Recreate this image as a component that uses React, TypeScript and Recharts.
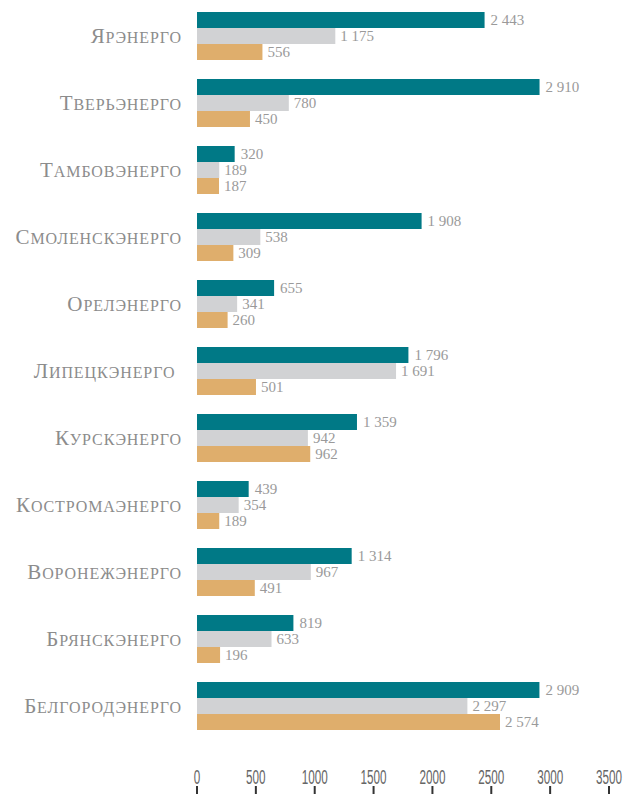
import { Bar, BarChart, LabelList, XAxis, YAxis } from "recharts";

const companies = [
  "Ярэнерго",
  "Тверьэнерго",
  "Тамбовэнерго",
  "Смоленскэнерго",
  "Орелэнерго",
  "Липецкэнерго\u00a0",
  "Курскэнерго",
  "Костромаэнерго",
  "Воронежэнерго",
  "Брянскэнерго",
  "Белгородэнерго",
];
const tealValues = [2443, 2910, 320, 1908, 655, 1796, 1359, 439, 1314, 819, 2909];
const grayValues = [1175, 780, 189, 538, 341, 1691, 942, 354, 967, 633, 2297];
const orangeValues = [556, 450, 187, 309, 260, 501, 962, 189, 491, 196, 2574];
const xTicks = [0, 500, 1000, 1500, 2000, 2500, 3000, 3500];

const data = companies.map((name, i) => ({
  name,
  teal: tealValues[i],
  gray: grayValues[i],
  orange: orangeValues[i],
}));

function formatValue(v: number): string {
  const s = String(v);
  if (s.length <= 3) return s;
  return `${s.slice(0, s.length - 3)} ${s.slice(-3)}`;
}

const valueLabelStyle = {
  fill: "#9a9a9a",
  fontSize: 15,
  fontFamily: "'Liberation Serif', serif",
};

// Small caps: the capital stays at full size, the rest is synthesized small caps
// a bit taller than the browser's default ratio.
function CompanyTick({ x, y, payload }: any) {
  const name: string = payload.value;
  return (
    <text
      x={x}
      y={y}
      dy={7}
      textAnchor="end"
      fill="#8c8c8c"
      fontSize={21}
      letterSpacing={0.9}
      fontFamily="'Liberation Serif', serif"
    >
      <tspan>{name.slice(0, 1)}</tspan>
      <tspan fontSize={23} style={{ fontVariant: "small-caps" }}>
        {name.slice(1)}
      </tspan>
    </text>
  );
}

// Axis labels sit above the tick marks, so both are drawn in the tick.
function ValueTick({ x, y, payload }: any) {
  return (
    <g>
      <text
        transform={`translate(${x},${y + 45}) scale(0.6,1)`}
        textAnchor="middle"
        fill="#666"
        fontSize={19.5}
        fontFamily="'Liberation Sans', sans-serif"
      >
        {payload.value}
      </text>
      <line x1={x} x2={x} y1={y + 47} y2={y + 55} stroke="#333" strokeWidth={2} />
    </g>
  );
}

export default function App() {
  return (
    <div style={{ position: "absolute", left: 0, top: 0 }}>
      <BarChart
        width={625}
        height={799}
        data={data}
        layout="vertical"
        barSize={16}
        barGap={0}
        margin={{ top: 2, right: 16, bottom: 2, left: 0 }}
      >
        <XAxis
          type="number"
          domain={[0, 3500]}
          ticks={xTicks}
          axisLine={false}
          tickLine={false}
          tickSize={0}
          tickMargin={0}
          height={58}
          interval={0}
          tick={<ValueTick />}
        />
        <YAxis
          type="category"
          dataKey="name"
          width={197}
          axisLine={false}
          tickLine={false}
          tickSize={0}
          tickMargin={15}
          interval={0}
          tick={<CompanyTick />}
        />
        <Bar dataKey="teal" fill="#007986" isAnimationActive={false}>
          <LabelList dataKey="teal" position="right" offset={6} formatter={formatValue} style={valueLabelStyle} />
        </Bar>
        <Bar dataKey="gray" fill="#d1d2d4" isAnimationActive={false}>
          <LabelList dataKey="gray" position="right" offset={5} formatter={formatValue} style={valueLabelStyle} />
        </Bar>
        <Bar dataKey="orange" fill="#dfae6c" isAnimationActive={false}>
          <LabelList dataKey="orange" position="right" offset={5} formatter={formatValue} style={valueLabelStyle} />
        </Bar>
      </BarChart>
    </div>
  );
}
